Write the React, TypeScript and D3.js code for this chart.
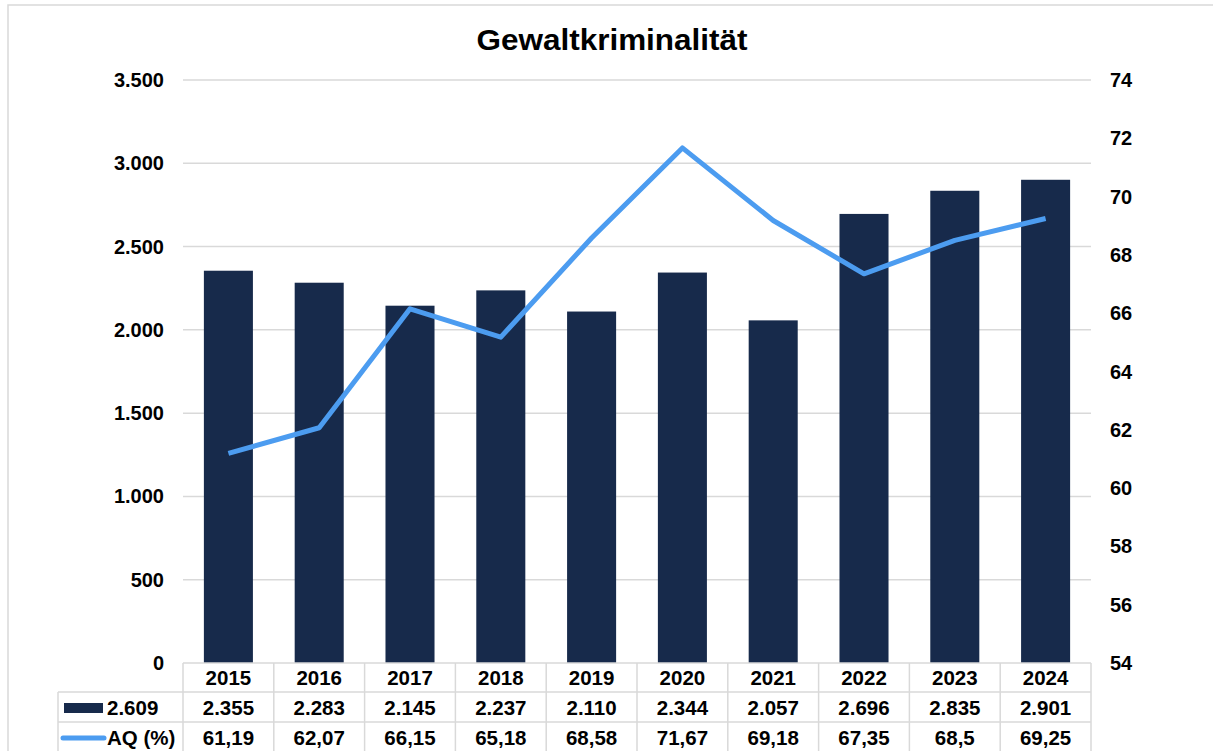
import React from "react";
import * as d3 from "d3";

const years = ["2015", "2016", "2017", "2018", "2019", "2020", "2021", "2022", "2023", "2024"];
const cases = [2355, 2283, 2145, 2237, 2110, 2344, 2057, 2696, 2835, 2901];
const aq = [61.19, 62.07, 66.15, 65.18, 68.58, 71.67, 69.18, 67.35, 68.5, 69.25];
const leftTicks = [0, 500, 1000, 1500, 2000, 2500, 3000, 3500];
const rightTicks = [54, 56, 58, 60, 62, 64, 66, 68, 70, 72, 74];
const barSeriesName = "2.609";
const lineSeriesName = "AQ (%)";
const title = "Gewaltkriminalität";

const W = 1213;
const H = 751;
const L = 183;
const R = 1091;
const T = 80;
const B = 663;
const ROW1 = 692;
const ROW2 = 722;
const ROW3 = 752;
const TABLE_LEFT = 58;

const BAR = "#172a4b";
const LINE = "#4c9cf0";
const GRID = "#d9d9d9";
const FONT = "'Liberation Sans', Arial, sans-serif";

const fmtDE = (v: number) => d3.format(",")(v).replace(/,/g, ".");
const fmtDec = (v: number) => String(v).replace(".", ",");

export default function App() {
  const x = d3.scaleBand<string>().domain(years).range([L, R]).paddingInner(0.46).paddingOuter(0.23);
  const xc = d3.scaleBand<string>().domain(years).range([L, R]);
  const yL = d3.scaleLinear().domain([0, 3500]).range([B, T]);
  const yR = d3.scaleLinear().domain([54, 74]).range([B, T]);
  const line = d3
    .line<number>()
    .x((_, i) => (xc(years[i]) as number) + xc.bandwidth() / 2)
    .y((d) => yR(d));

  const colW = xc.bandwidth();

  return (
    <svg
      width={W}
      height={H}
      style={{ position: "absolute", left: 0, top: 0, display: "block", background: "#fff" }}
      fontFamily={FONT}
    >
      <rect x={8} y={5} width={W + 10} height={H + 10} fill="#fff" stroke="#d9d9d9" strokeWidth={1.5} />
      <text
        x={612}
        y={50}
        textAnchor="middle"
        fontSize={30}
        fontWeight="bold"
        fill="#000"
        textLength={271}
        lengthAdjust="spacingAndGlyphs"
      >
        {title}
      </text>

      {leftTicks.map((t) => (
        <g key={"g" + t}>
          {t > 0 && <line x1={L} x2={R} y1={yL(t)} y2={yL(t)} stroke={GRID} strokeWidth={1.5} />}
          <text x={164} y={yL(t) + 7} textAnchor="end" fontSize={20} fontWeight="bold" fill="#000">
            {fmtDE(t)}
          </text>
        </g>
      ))}
      {rightTicks.map((t) => (
        <text key={"r" + t} x={1110} y={yR(t) + 7} fontSize={20} fontWeight="bold" fill="#000">
          {t}
        </text>
      ))}

      {cases.map((v, i) => (
        <rect key={"b" + i} x={x(years[i])} y={yL(v)} width={x.bandwidth()} height={B - yL(v)} fill={BAR} />
      ))}

      <path d={line(aq) || ""} fill="none" stroke={LINE} strokeWidth={5} strokeLinejoin="round" />

      <g stroke={GRID} strokeWidth={1.5}>
        <line x1={L} x2={R} y1={B} y2={B} />
        <line x1={TABLE_LEFT} x2={R} y1={ROW1} y2={ROW1} />
        <line x1={TABLE_LEFT} x2={R} y1={ROW2} y2={ROW2} />
        <line x1={TABLE_LEFT} x2={R} y1={ROW3} y2={ROW3} />
        <line x1={TABLE_LEFT} x2={TABLE_LEFT} y1={ROW1} y2={ROW3} />
        {years.map((yr) => (
          <line key={"c" + yr} x1={xc(yr)} x2={xc(yr)} y1={B} y2={ROW3} />
        ))}
        <line x1={R} x2={R} y1={B} y2={ROW3} />
      </g>

      {years.map((yr, i) => {
        const cx = (xc(yr) as number) + colW / 2;
        return (
          <g key={"t" + yr} fontSize={20.5} fontWeight="bold" fill="#000" textAnchor="middle">
            <text x={cx} y={685}>{yr}</text>
            <text x={cx} y={715}>{fmtDE(cases[i])}</text>
            <text x={cx} y={745}>{fmtDec(aq[i])}</text>
          </g>
        );
      })}

      <rect x={64} y={703} width={39} height={10} fill={BAR} />
      <text x={107} y={715} fontSize={20.5} fontWeight="bold" fill="#000">{barSeriesName}</text>
      <line x1={63} x2={104} y1={738} y2={738} stroke={LINE} strokeWidth={5} strokeLinecap="round" />
      <text x={107} y={745} fontSize={20.5} fontWeight="bold" fill="#000">{lineSeriesName}</text>
    </svg>
  );
}
